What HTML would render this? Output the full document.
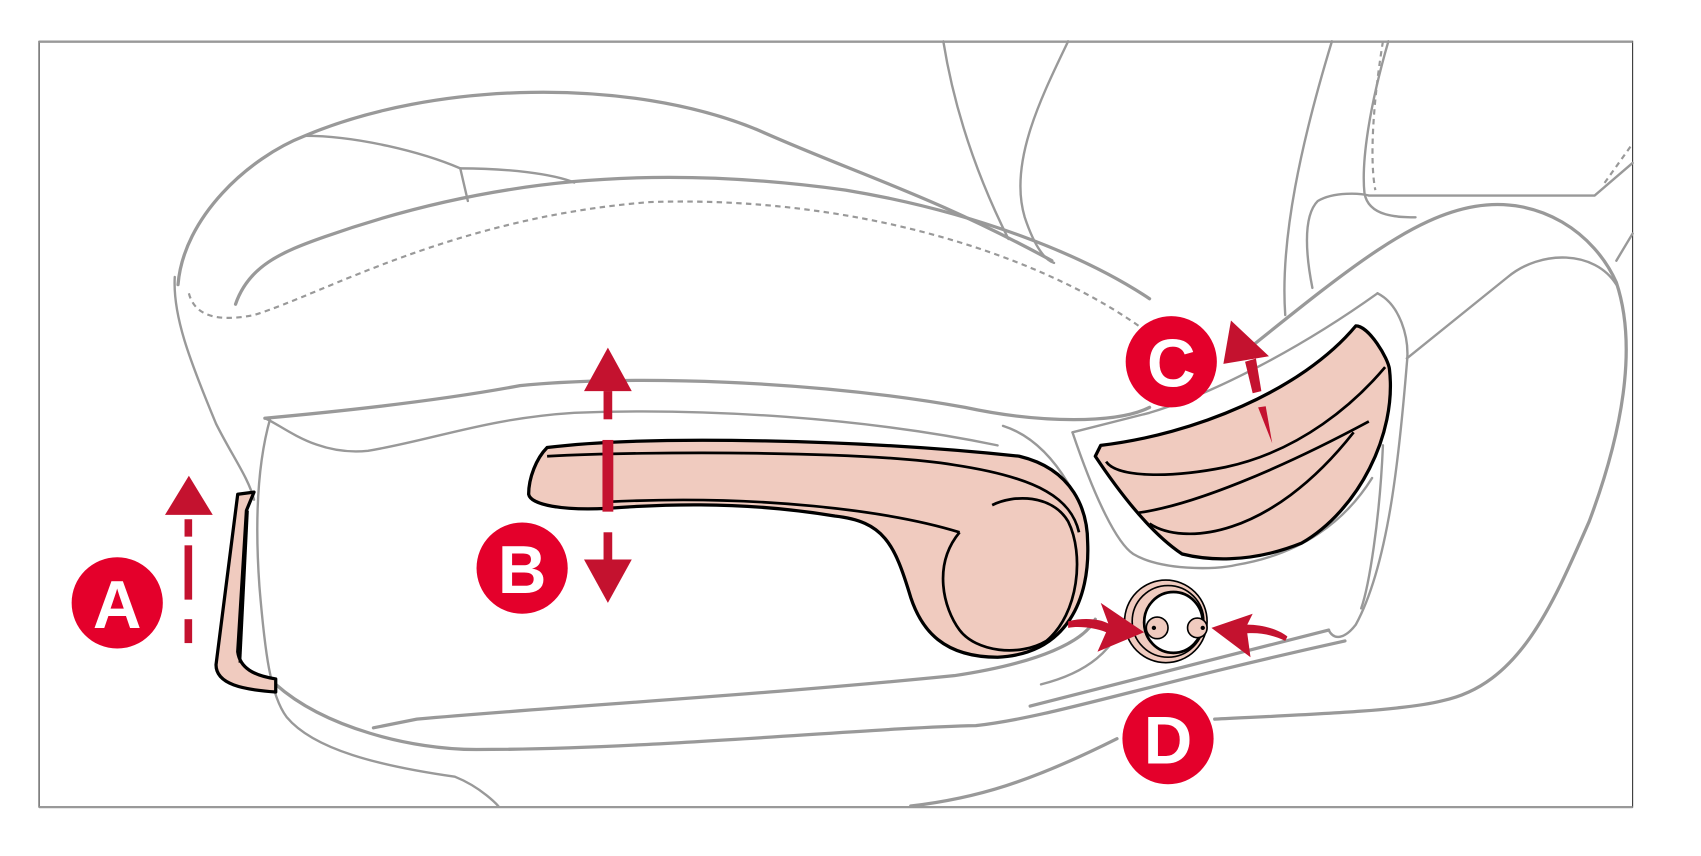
<!DOCTYPE html>
<html><head><meta charset="utf-8"><style>
html,body{margin:0;padding:0;background:#fff;width:1701px;height:856px;overflow:hidden}
svg{display:block}
text{font-family:"Liberation Sans",sans-serif;font-weight:bold;fill:#fff}
</style></head><body>
<svg width="1701" height="856" viewBox="1 0 1567 788" preserveAspectRatio="none">
<rect x="37" y="38" width="1468" height="705" fill="#fff" stroke="#333" stroke-width="1"/>
<line x1="37" y1="38.5" x2="1505" y2="38.5" stroke="#999" stroke-width="2"/>
<line x1="37" y1="743" x2="1505" y2="743" stroke="#999" stroke-width="2"/>
<g fill="none" stroke="#999" stroke-width="3" stroke-linecap="round">
<path d="M165,262 C170,200 230,145 282,125 C400,75 580,70 700,120 C790,160 860,180 970,240"/>
<path d="M218,280 C230,245 260,232 300,218 C450,165 600,150 780,175 C900,195 1000,235 1060,275"/>
<path d="M245,385 C300,380 400,370 480,355 C580,345 750,350 890,375 C960,390 1030,390 1060,375"/>
<path d="M1030,680 C950,720 900,735 840,742"/>
<path d="M1120,662 C1200,658 1290,655 1330,645 C1400,630 1430,560 1465,480 C1495,400 1510,320 1490,260 C1470,215 1420,180 1360,190 C1300,200 1240,250 1140,330"/>
<path d="M950,650 L1225,580"/>
<path d="M345,670 L385,662 C520,650 700,640 880,622 C960,610 1000,590 1010,570"/>
<path d="M255,630 C300,670 380,690 440,690 C600,690 800,670 900,668 C970,660 1050,632 1240,590"/>
</g>
<g fill="none" stroke="#999" stroke-width="2.2" stroke-linecap="round">
<path d="M282,125 C330,125 390,140 425,155 L432,185"/>
<path d="M425,155 C470,155 510,160 530,168"/>
<path d="M162,255 C160,290 175,330 200,390 C215,420 230,440 235,460"/>
<path d="M245,385 C262,392 292,420 340,415 C400,405 450,385 530,380 C650,375 800,385 920,410"/>
<path d="M250,385 C240,420 235,470 240,540 C245,600 250,640 265,660 C290,690 350,705 420,715 C445,725 460,742 460,742"/>
<path d="M870,38 C880,100 900,160 930,220"/>
<path d="M985,38 C960,90 930,150 945,200 C955,230 965,240 972,242"/>
<path d="M1228,38 C1200,130 1180,220 1185,290"/>
<path d="M1280,38 C1262,100 1255,150 1258,178 C1262,200 1290,200 1305,200"/>
<path d="M1262,180 L1470,180 L1505,150"/>
<path d="M1210,265 C1205,240 1200,200 1215,185 C1230,176 1255,178 1262,180"/>
<path d="M1270,270 C1290,280 1300,310 1297,335 C1290,420 1280,520 1250,575 C1240,588 1230,590 1225,580"/>
<path d="M1297,330 L1390,255 C1420,230 1470,230 1490,262"/>
<path d="M1490,240 L1505,215"/>
<path d="M925,392 C950,400 970,420 985,445 C995,470 1000,490 1000,500"/>
<path d="M989,398 C1010,460 1030,500 1045,510 C1070,525 1120,525 1140,520 C1200,510 1240,480 1265,440"/>
<path d="M989,398 L1060,380 C1120,362 1200,320 1270,270"/>
<path d="M1275,410 C1272,480 1262,540 1255,560"/>
<path d="M1040,560 C1030,600 1000,620 960,630"/>
</g>
<g fill="none" stroke="#999" stroke-width="2" stroke-dasharray="5,4">
<path d="M175,270 C180,290 200,297 235,290 C300,270 420,200 600,186 C780,180 950,230 1050,300"/>
<path d="M1275,38 C1265,100 1263,150 1268,175"/>
<path d="M1503,135 L1478,170"/>
</g>
<g fill="#f0cbbf" stroke="#000" stroke-width="3" stroke-linejoin="round">
<path d="M220,455 L235,453 L228,470 L220,600 C222,615 235,622 255,625 L255,637 C225,635 200,630 200,612 Z"/>
<path d="M505,412 C600,400 800,405 940,420 C990,432 1003,470 1003,500 C1005,550 985,602 920,605 C870,605 850,580 840,550 C825,500 815,480 770,475 C680,460 600,465 560,468 C520,470 490,465 488,455 C488,440 495,422 505,412 Z"/>
<path d="M1015,410 C1100,400 1200,360 1250,300 C1262,300 1280,330 1281,340 C1288,400 1252,470 1200,500 C1150,520 1110,515 1090,510 C1060,490 1030,450 1010,420 Z"/>
</g>
<g fill="none" stroke="#000" stroke-width="2.5">
<path d="M505,420 C600,415 800,415 880,428 C960,440 988,460 995,490"/>
<path d="M885,490 C820,470 700,455 560,462"/>
<path d="M885,490 C860,520 870,560 885,580 C900,600 940,605 965,590 C995,565 1000,510 985,480 C970,455 935,455 915,465"/>
<path d="M1020,425 C1030,440 1080,440 1130,430 C1200,415 1250,370 1277,338"/>
<path d="M1050,472 C1100,465 1180,432 1262,388"/>
<path d="M1060,482 C1090,502 1170,497 1248,398"/>
<path d="M229,470 L222,610"/>
</g>
<g stroke="#000" stroke-width="1.5">
<circle cx="1075" cy="572" r="38" fill="#f0cbbf"/>
<circle cx="1077" cy="572" r="33" fill="#f0cbbf"/>
<ellipse cx="1082" cy="573" rx="27" ry="28" fill="#fff" stroke-width="2.5"/>
<circle cx="1067" cy="578" r="10" fill="#f0cbbf"/>
<circle cx="1104" cy="578" r="9" fill="#f0cbbf"/>
</g>
<circle cx="1064" cy="578" r="2" fill="#000"/><circle cx="1109" cy="578" r="2" fill="#000"/>
<g fill="#c4122f">
<polygon points="175,438 153,474 197,474"/>
<rect x="171" y="478" width="7" height="16"/><rect x="171" y="502" width="7" height="50"/><rect x="171" y="570" width="7" height="22"/>
<polygon points="561,320 539,360 583,360"/>
<rect x="557" y="360" width="8" height="26"/><rect x="556" y="405" width="10" height="66"/><rect x="557" y="490" width="8" height="26"/>
<polygon points="561,555 539,515 583,515"/>
<polygon points="1135,295 1128,335 1170,328"/>
<polygon points="1148,333 1158,330 1163,360 1155,362"/>
<polygon points="1160,375 1167,374 1173,408"/>
<path d="M985,572 C1000,568 1015,570 1022,574 L1015,555 L1055,582 L1012,600 L1020,582 C1010,578 995,576 985,578 Z"/>
<path d="M1185,590 C1175,585 1162,582 1150,583 L1153,605 L1117,578 L1155,565 L1150,575 C1165,575 1180,580 1187,586 Z"/>
</g>
<g fill="#e4002b">
<circle cx="109" cy="555" r="42"/><circle cx="482" cy="523" r="42"/><circle cx="1080" cy="333" r="42"/><circle cx="1077" cy="680" r="42"/>
</g>
<text x="109" y="578" font-size="62" text-anchor="middle">A</text>
<text x="482" y="546" font-size="62" text-anchor="middle">B</text>
<text x="1080" y="356" font-size="62" text-anchor="middle">C</text>
<text x="1077" y="703" font-size="62" text-anchor="middle">D</text>
</svg>
</body></html>
